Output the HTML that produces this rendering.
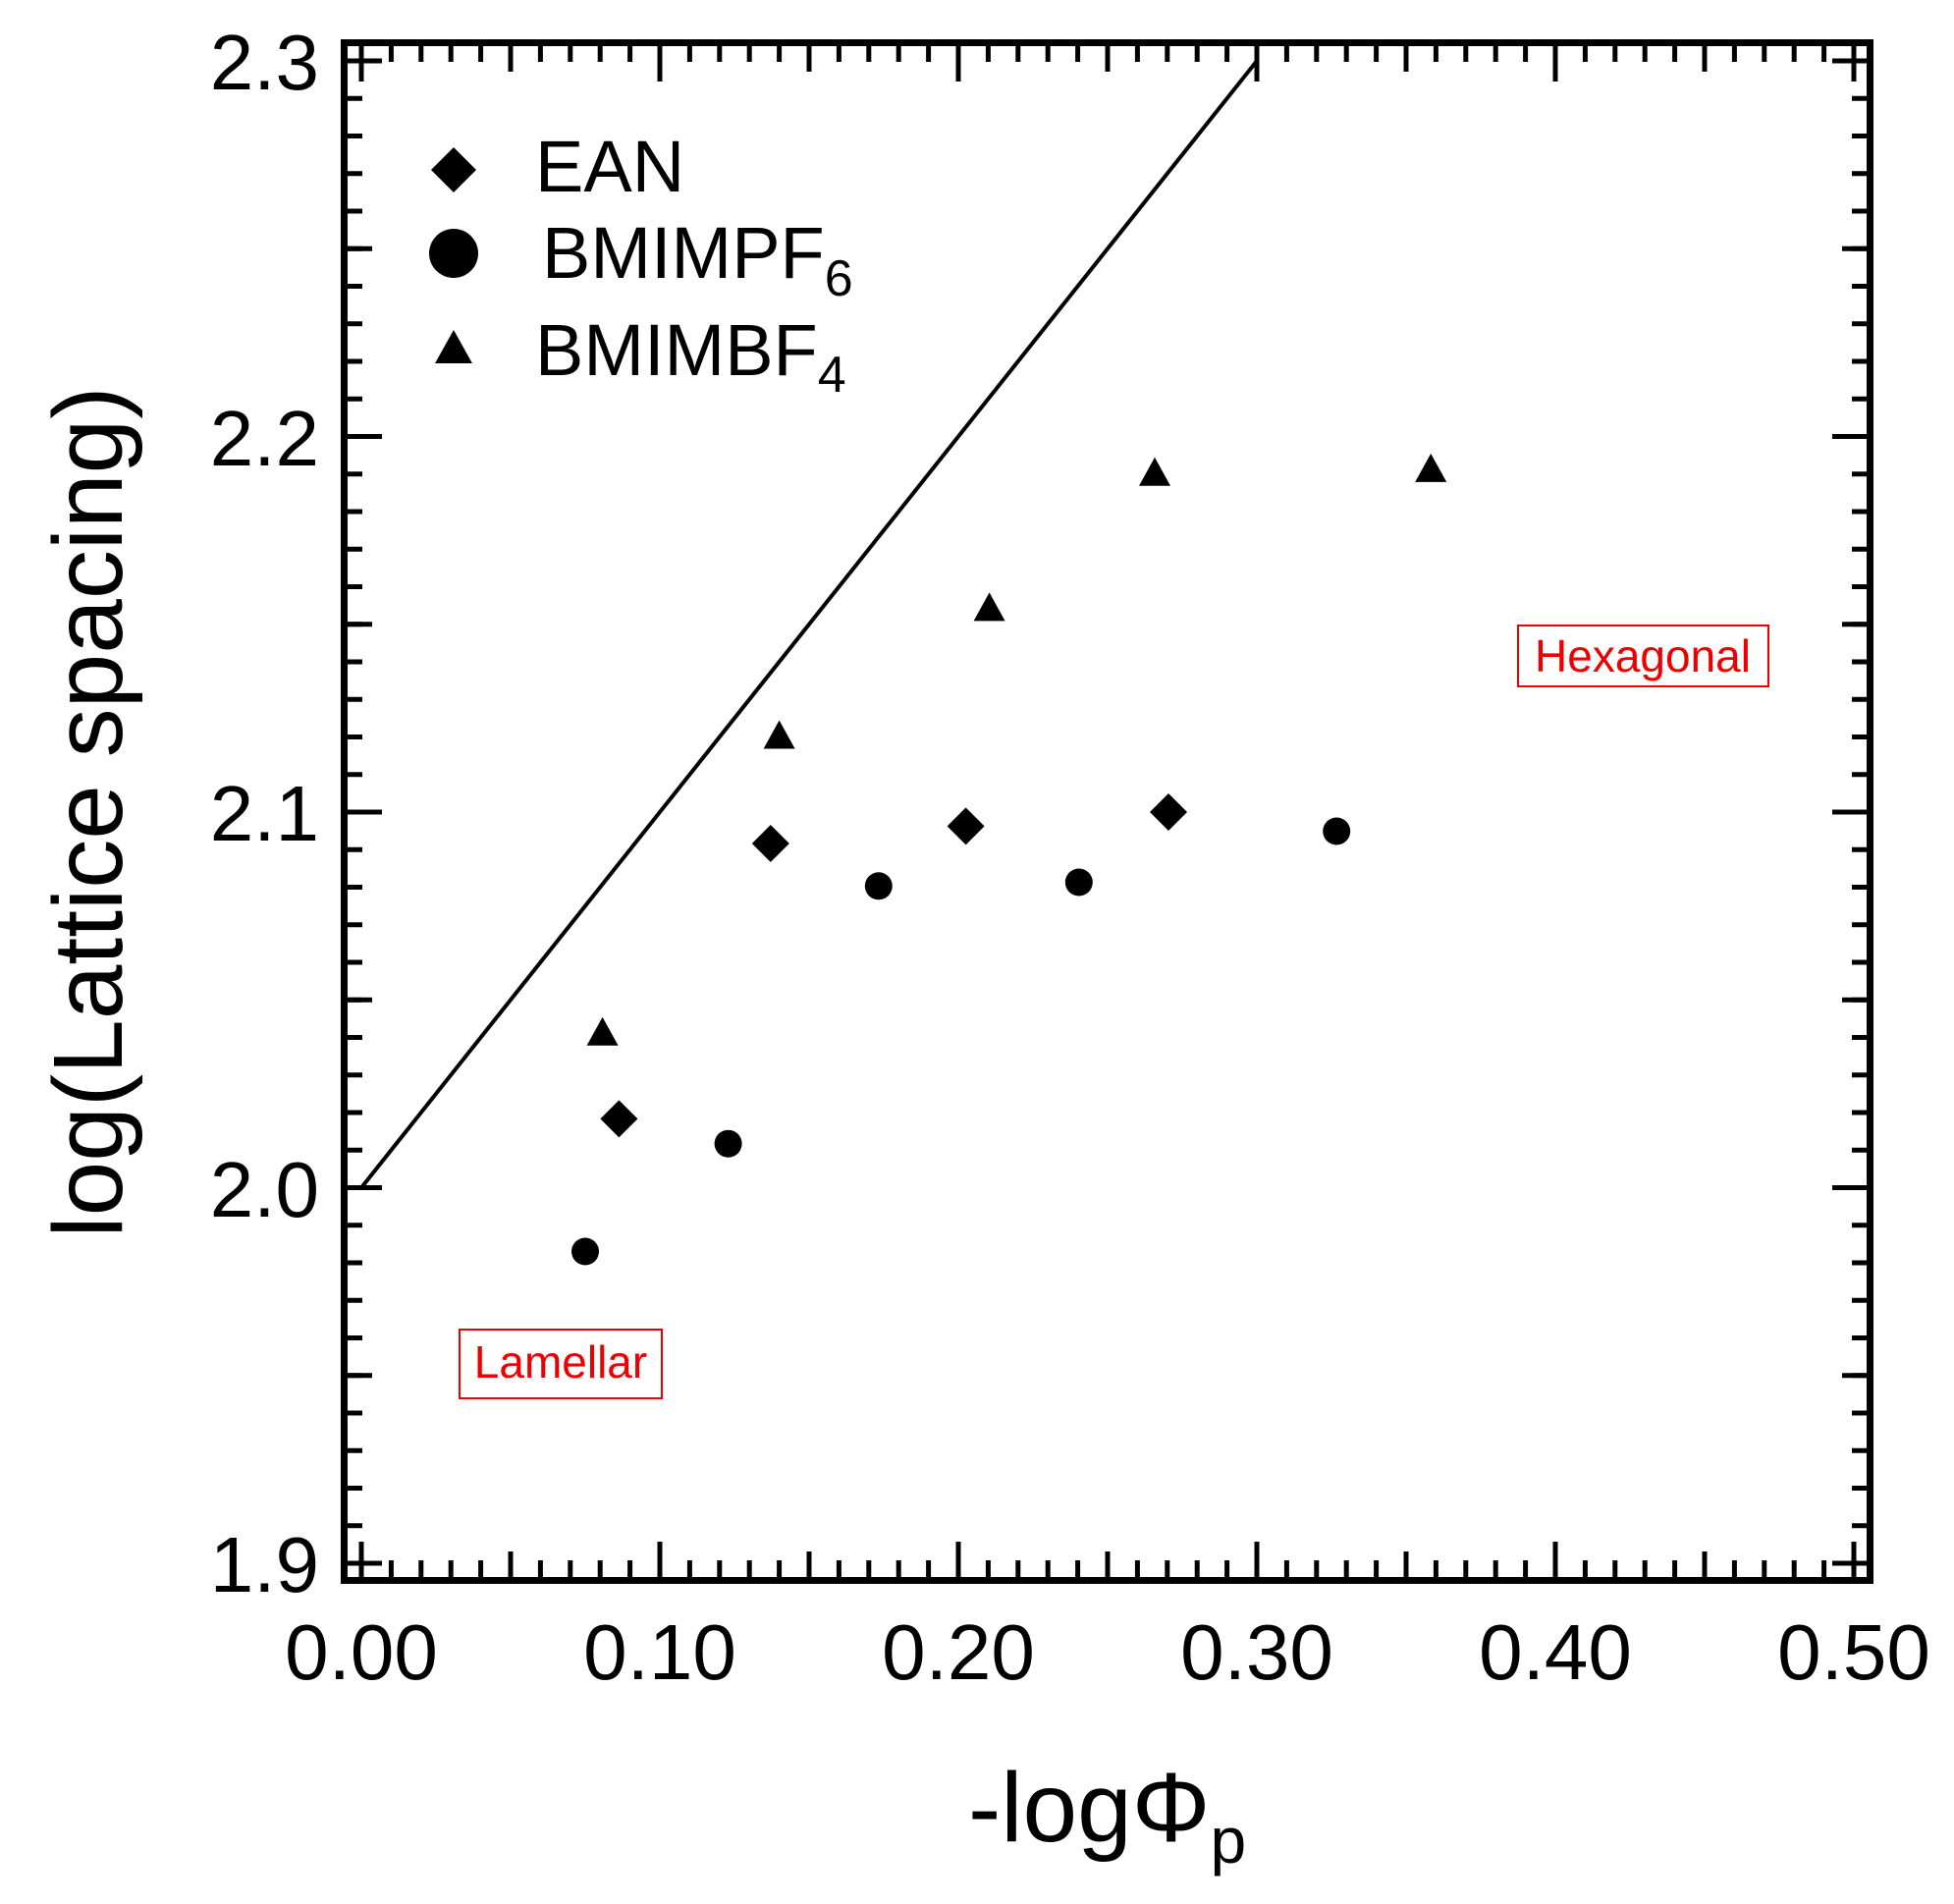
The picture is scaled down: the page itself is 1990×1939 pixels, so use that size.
<!DOCTYPE html>
<html><head><meta charset="utf-8"><style>html,body{margin:0;padding:0;background:#fff}svg{display:block}</style></head><body>
<svg width="1990" height="1939" viewBox="0 0 1990 1939" xmlns="http://www.w3.org/2000/svg" font-family="Liberation Sans, Arial, sans-serif">
<rect width="1990" height="1939" fill="#fff"/>
<g stroke="#000" fill="none">
<line x1="365.5" y1="1599.5" x2="1891" y2="1599.5" stroke-width="21" stroke-dasharray="5 25.4"/>
<line x1="517.5" y1="1595" x2="1891" y2="1595" stroke-width="30" stroke-dasharray="5 299"/>
<line x1="365.5" y1="1590" x2="1891" y2="1590" stroke-width="40" stroke-dasharray="5 299"/>
<line x1="365.5" y1="53" x2="1891" y2="53" stroke-width="20" stroke-dasharray="5 25.4"/>
<line x1="517.5" y1="58" x2="1891" y2="58" stroke-width="30" stroke-dasharray="5 299"/>
<line x1="365.5" y1="63" x2="1891" y2="63" stroke-width="40" stroke-dasharray="5 299"/>
<line x1="360" y1="59.5" x2="360" y2="1595" stroke-width="18" stroke-dasharray="5 33.25"/>
<line x1="365" y1="250.75" x2="365" y2="1595" stroke-width="28" stroke-dasharray="5 377.5"/>
<line x1="370" y1="59.5" x2="370" y2="1595" stroke-width="38" stroke-dasharray="5 377.5"/>
<line x1="1895" y1="59.5" x2="1895" y2="1595" stroke-width="18" stroke-dasharray="5 33.25"/>
<line x1="1890" y1="250.75" x2="1890" y2="1595" stroke-width="28" stroke-dasharray="5 377.5"/>
<line x1="1885" y1="59.5" x2="1885" y2="1595" stroke-width="38" stroke-dasharray="5 377.5"/>
</g>
<rect x="350.5" y="43.5" width="1554" height="1566" fill="none" stroke="#000" stroke-width="7"/>
<g font-size="80" fill="#000" text-anchor="end">
<text x="325" y="91">2.3</text><text x="325" y="474">2.2</text><text x="325" y="856">2.1</text><text x="325" y="1239">2.0</text><text x="325" y="1621">1.9</text>
</g>
<g font-size="80" fill="#000" text-anchor="middle">
<text x="368" y="1710">0.00</text><text x="672" y="1710">0.10</text><text x="976" y="1710">0.20</text><text x="1280" y="1710">0.30</text><text x="1584" y="1710">0.40</text><text x="1888" y="1710">0.50</text>
</g>
<text transform="translate(124,827) rotate(-90)" font-size="100" text-anchor="middle">log(Lattice spacing)</text>
<text x="986" y="1875" font-size="100">-logΦ<tspan font-size="66" dy="22">p</tspan></text>
<line x1="368" y1="1209.5" x2="1280" y2="62" stroke="#000" stroke-width="4"/>
<g fill="#000">
<path d="M462 150 L485 173 L462 196 L439 173Z"/>
<circle cx="462" cy="258" r="25"/>
<path d="M462 336 L481 370 L443 370Z"/>
</g>
<g font-size="74" fill="#000">
<text x="545" y="195">EAN</text>
<text x="552" y="283">BMIMPF<tspan font-size="52" dy="18">6</tspan></text>
<text x="545" y="382">BMIMBF<tspan font-size="52" dy="17">4</tspan></text>
</g>
<g fill="#000">
<path d="M613.6 1035.7 l16 29 h-32z"/>
<path d="M793.6 733.5 l16 29 h-32z"/>
<path d="M1007.6 603.4 l16 29 h-32z"/>
<path d="M1176 465.7 l16 29 h-32z"/>
<path d="M1457.2 461.9 l16 29 h-32z"/>
<path d="M630.4 1120.4 l19 19 l-19 19 l-19 -19z"/>
<path d="M784.8 840 l19 19 l-19 19 l-19 -19z"/>
<path d="M983.6 822.4 l19 19 l-19 19 l-19 -19z"/>
<path d="M1190 808 l19 19 l-19 19 l-19 -19z"/>
<circle cx="596" cy="1274.5" r="14"/>
<circle cx="741.6" cy="1164.7" r="14"/>
<circle cx="894.8" cy="902.3" r="14"/>
<circle cx="1098.8" cy="898.5" r="14"/>
<circle cx="1361.2" cy="846.5" r="14"/>
</g>
<rect x="1546" y="637" width="255" height="62" fill="none" stroke="#e00" stroke-width="2"/>
<text x="1673" y="684" font-size="46" fill="#e00" text-anchor="middle">Hexagonal</text>
<rect x="468" y="1354" width="206" height="70" fill="none" stroke="#e00" stroke-width="2"/>
<text x="571" y="1403" font-size="46" fill="#e00" text-anchor="middle">Lamellar</text>
</svg>
</body></html>
